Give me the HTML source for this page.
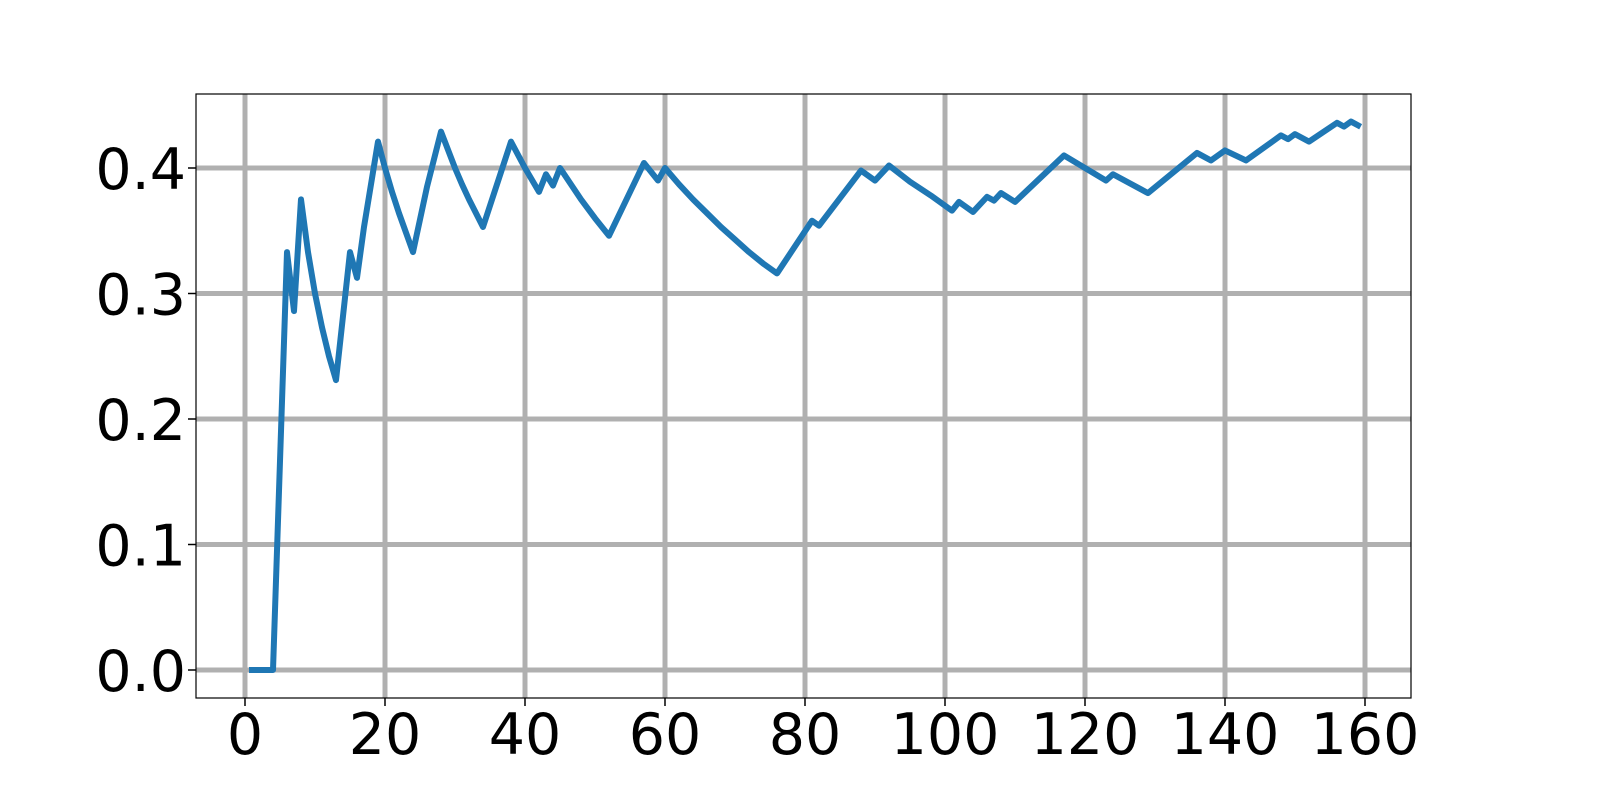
<!DOCTYPE html>
<html><head><meta charset="utf-8"><style>
html,body{margin:0;padding:0;background:#fff;overflow:hidden;width:1600px;height:800px;}
svg{display:block;position:absolute;left:0;top:0;}
text{font-family:"DejaVu Sans","Liberation Sans",sans-serif;}
</style></head><body>
<svg id="chart" width="1600" height="800" viewBox="0 0 1600 800" xmlns="http://www.w3.org/2000/svg"></svg>
<script>
const xTicks = [0,20,40,60,80,100,120,140,160];
const yTicks = [0.0,0.1,0.2,0.3,0.4];
const yTickLabels = ["0.0","0.1","0.2","0.3","0.4"];
const xValues = [1,4,6,7,8,9,10,11,12,13,15,16,17,19,20,21,22,24,26,28,30,31,32,34,38,40,42,43,44,45,48,50,52,57,59,60,62,64,66,68,70,72,74,76,81,82,88,90,92,95,98,101,102,104,106,107,108,110,117,123,124,129,136,138,140,143,148,149,150,152,156,157,158,159];
const yValues = [0,0,0.333,0.286,0.375,0.333,0.3,0.273,0.25,0.231,0.333,0.3125,0.353,0.421,0.4,0.381,0.364,0.333,0.385,0.429,0.4,0.387,0.375,0.353,0.421,0.4,0.381,0.395,0.386,0.4,0.375,0.36,0.346,0.404,0.39,0.4,0.387,0.375,0.364,0.353,0.343,0.333,0.324,0.316,0.358,0.354,0.398,0.39,0.402,0.389,0.378,0.366,0.373,0.365,0.377,0.374,0.380,0.373,0.410,0.390,0.395,0.380,0.412,0.406,0.414,0.406,0.426,0.423,0.427,0.421,0.436,0.433,0.437,0.434];

const NS="http://www.w3.org/2000/svg";
const svg=document.getElementById('chart');
const L=196,R=1411,T=94,B=698;
function xs(v){return 245+(v-0)*(1365-245)/160;}
function ys(v){return 670-(v-0)*(670-168)/0.4;}
function mk(tag,attrs,parent){const e=document.createElementNS(NS,tag);for(const k in attrs)e.setAttribute(k,attrs[k]);(parent||svg).appendChild(e);return e;}

const grid=mk('g',{});


xTicks.forEach(t=>{const l=mk('line',{x1:xs(t),x2:xs(t),y1:T,y2:B,stroke:'#b0b0b0','stroke-width':5},grid);

});
yTicks.forEach(t=>{const l=mk('line',{x1:L,x2:R,y1:ys(t),y2:ys(t),stroke:'#b0b0b0','stroke-width':5},grid);

});

const xl=mk('g',{});


xTicks.forEach(t=>{
mk('line',{x1:xs(t),x2:xs(t),y1:B,y2:B+8,stroke:'#000','stroke-width':1.5},xl);
const tx=mk('text',{x:xs(t),y:754,'font-size':57,'text-anchor':'middle',fill:'#000'},xl);tx.textContent=t;

});

const yl=mk('g',{});


yTicks.forEach((t,i)=>{
mk('line',{x1:L-8,x2:L,y1:ys(t),y2:ys(t),stroke:'#000','stroke-width':1.5},yl);
const tx=mk('text',{x:186,y:ys(t)+21,'font-size':57,'text-anchor':'end',fill:'#000'},yl);tx.textContent=yTickLabels[i];

});

const pts=xValues.map((x,i)=>xs(x)+','+ys(yValues[i])).join(' ');
const line=mk('polyline',{points:pts,fill:'none',stroke:'#1f77b4','stroke-width':6,'stroke-linejoin':'round','stroke-linecap':'square'});



const frame=mk('rect',{x:L,y:T,width:R-L,height:B-T,fill:'none',stroke:'#000','stroke-width':1.2});


</script>
</body></html>
